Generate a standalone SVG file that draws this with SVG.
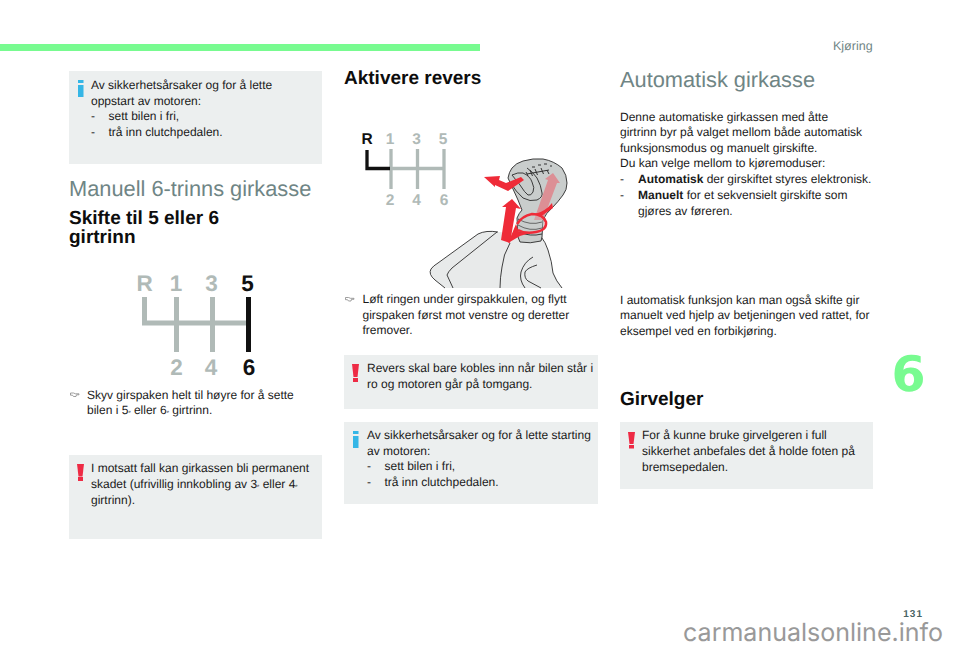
<svg xmlns="http://www.w3.org/2000/svg" width="960" height="649" viewBox="0 0 960 649">
<style>
text{font-family:"Liberation Sans",Arial,sans-serif;fill:#1a1a1a;text-rendering:geometricPrecision}
.b{font-size:12px}
.h1{font-size:21.800px;fill:#6f8585}
.h2{font-size:19px;font-weight:bold;fill:#0d0d0d}
.box{fill:#ecefef}
.i{fill:#35b6e6}
.w{fill:#ee2b45}
.g{fill:#b0bab7;font-weight:bold}
.k{fill:#111;font-weight:bold}
.gl{stroke:#b0bab7;fill:none}
.kl{stroke:#111;fill:none}
.sup{font-size:4px}
.ink{fill:none;stroke:#2a2a2a;stroke-width:.9}
.hand{fill:#fff;stroke:#888;stroke-width:.8}
</style>
<rect width="960" height="649" fill="#fff"/>
<rect x="0" y="44" width="480" height="7" fill="#78fb90"/>

<g id="box1"><rect class="box" x="69" y="71" width="253" height="93"/>
<rect class="i" x="78" y="80" width="5.500" height="3"/><rect class="i" x="78" y="85" width="5.500" height="12"/>
<text class="b" x="91" y="89">Av sikkerhetsårsaker og for å lette</text>
<text class="b" x="91" y="105">oppstart av motoren:</text>
<text class="b" x="91" y="120">-</text><text class="b" x="108.500" y="120">sett bilen i fri,</text>
<text class="b" x="91" y="136">-</text><text class="b" x="108.500" y="136">trå inn clutchpedalen.</text></g>

<text class="h1" x="69" y="196">Manuell 6-trinns girkasse</text>
<text class="h2" x="69" y="224">Skifte til 5 eller 6</text>
<text class="h2" x="69" y="243">girtrinn</text>

<g id="shift-diagram-1">
<path class="gl" stroke-width="5" d="M144.500 297V323H246M176.500 297V352M212.500 297V352"/>
<path class="kl" stroke-width="5" d="M248.500 297V352"/>
<g font-size="22.500px" text-anchor="middle"><text class="g" x="144.500" y="291">R</text><text class="g" x="176" y="291">1</text><text class="g" x="211.500" y="291">3</text><text class="k" x="247.500" y="291">5</text>
<text class="g" x="176.500" y="375">2</text><text class="g" x="211" y="375">4</text><text class="k" x="249" y="375">6</text></g>
</g>

<path class="hand" d="M70.500 393h3l2 .8h3.500v1h-2.500l-.5 1.700h-2.500l-1-1.300h-2z"/>
<text class="b" x="87" y="399">Skyv girspaken helt til høyre for å sette</text>
<text class="b" x="87" y="414">bilen i 5<tspan class="sup" dy="-1">e</tspan><tspan dy="1"> eller 6</tspan><tspan class="sup" dy="-1">e</tspan><tspan dy="1"> girtrinn.</tspan></text>

<g id="box2"><rect class="box" x="69" y="455" width="253" height="84"/>
<path class="w" d="M77 464h7l-1.500 12.500h-4z"/><rect class="w" x="78" y="477" width="5" height="4"/>
<text class="b" x="91" y="472">I motsatt fall kan girkassen bli permanent</text>
<text class="b" x="91" y="488">skadet (ufrivillig innkobling av 3<tspan class="sup" dy="-1">e</tspan><tspan dy="1"> eller 4</tspan><tspan class="sup" dy="-1">e</tspan></text>
<text class="b" x="91" y="504">girtrinn).</text></g>

<text class="h2" x="344" y="84">Aktivere revers</text>

<g id="shift-diagram-2">
<path class="gl" stroke-width="3.300" d="M391 149V189M417.500 149V189M444 149V189M391 168.500H444"/>
<path class="kl" stroke-width="3.300" d="M367 150V168.500H390"/>
<g font-size="15.500px" text-anchor="middle"><text class="k" x="367" y="144">R</text><text class="g" x="390" y="144">1</text><text class="g" x="416.500" y="144">3</text><text class="g" x="443" y="144">5</text>
<text class="g" x="390" y="205">2</text><text class="g" x="416.500" y="205">4</text><text class="g" x="444" y="205">6</text></g>
</g>

<g id="gear-knob">
<path d="M430 272Q431 268 436 265L478 234Q486 230 498 232L540 235L548 250L553 273L562 288H445L435 280Z" fill="#e8eaea"/>
<path class="ink" d="M445 288L435 280Q428 274 431 269Q433 266 438 263L478 234Q486 230 498 232"/>
<path class="ink" d="M453 288L447 275Q448 272 452 268L497 232"/>
<path class="ink" d="M510 243Q503 255 502 267Q500 278 500 288M540 235Q546 243 548 250Q552 262 553 273Q556 281 562 288"/>
<path class="ink" d="M525 288Q519 280 521 272Q524 262 533 257M537 265Q527 268 525 272Q524 278 528 281L541 288"/>
<path d="M508 178Q509 172 512 168Q516 163 523 161Q533 158 543 159Q554 161 562 168Q567 175 567 183Q567 190 563 195Q558 202 552 208Q546 213 543 220L542 237L541 241Q530 244 520 242L518 237L517 218Q519 213 522 210Q520 205 518 200Z" fill="#c9cdcc" stroke="#2a2a2a" stroke-width=".9"/>
<path class="ink" d="M512 175Q518 172 523 173Q530 176 532 182Q535 188 533 192Q531 196 528 195Q525 193 520 185Z"/>
<path class="ink" d="M510 182Q516 192 523 198Q530 202 537 200Q543 197 542 193Q541 185 537 178Q533 172 527 168"/>
<path class="ink" d="M518 219Q530 226 542 222M518 225Q530 232 542 228M519 232Q530 237 542 234"/>
<path d="M526 172l2 4M530 170l2.500 6M535 169l2.500 6M541 168l2.500 6M547 170l2 4M527 174l22-4" stroke="#333" stroke-width="1" fill="none"/>
<path d="M532 167h3M538 165h3M544 164h3M550 166h2" stroke="#333" stroke-width="1.200" fill="none"/>
<path d="M512 199L521 209L516 208L510 243L501 240L506 207L502 207Z" fill="#ef2b38"/>
<path d="M484 177L500 176L499 180L506 183L521 177L524 180L508 191L495 185L495 187Z" fill="#ef2b38"/>
<path d="M534 220L548 180L545 179L553 173L560 183L557 183L543 220Z" fill="#dc8f95"/>
<path d="M552 203L553 208L540 217L535 214Q546 211 552 203Z" fill="#ef2b38"/>
<path d="M517 224Q522 216 532 214Q543 214 546 222Q547 230 536 232Q525 234 518 230" fill="#c9cdcc" fill-opacity=".3" stroke="#ef2b38" stroke-width="2.500"/>
<path d="M508 243L516 224L519 232L530 233L520 236Z" fill="#ef2b38"/>
</g>

<path class="hand" d="M345.500 297.500h3l2 .8h3.500v1h-2.500l-.5 1.700h-2.500l-1-1.300h-2z"/>
<text class="b" x="362.500" y="303">Løft ringen under girspakkulen, og flytt</text>
<text class="b" x="362.500" y="319">girspaken først mot venstre og deretter</text>
<text class="b" x="362.500" y="334">fremover.</text>

<g id="box3"><rect class="box" x="344" y="355" width="254" height="54"/>
<path class="w" d="M352 364h7l-1.500 13h-4z"/><rect class="w" x="353" y="378" width="5" height="4"/>
<text class="b" x="367" y="372">Revers skal bare kobles inn når bilen står i</text>
<text class="b" x="367" y="388">ro og motoren går på tomgang.</text></g>

<g id="box4"><rect class="box" x="344" y="422" width="254" height="82"/>
<rect class="i" x="353" y="431" width="5.500" height="3"/><rect class="i" x="353" y="436" width="5.500" height="12"/>
<text class="b" x="367" y="439">Av sikkerhetsårsaker og for å lette starting</text>
<text class="b" x="367" y="455">av motoren:</text>
<text class="b" x="367" y="470">-</text><text class="b" x="384.500" y="470">sett bilen i fri,</text>
<text class="b" x="367" y="486">-</text><text class="b" x="384.500" y="486">trå inn clutchpedalen.</text></g>

<text class="h1" x="620" y="87">Automatisk girkasse</text>
<text class="b" x="620" y="121">Denne automatiske girkassen med åtte</text>
<text class="b" x="620" y="136">girtrinn byr på valget mellom både automatisk</text>
<text class="b" x="620" y="152">funksjonsmodus og manuelt girskifte.</text>
<text class="b" x="620" y="167">Du kan velge mellom to kjøremoduser:</text>
<text class="b" x="620" y="183">-</text><text class="b" x="638" y="183"><tspan font-weight="bold">Automatisk</tspan> der girskiftet styres elektronisk.</text>
<text class="b" x="620" y="199">-</text><text class="b" x="638" y="199"><tspan font-weight="bold">Manuelt</tspan> for et sekvensielt girskifte som</text>
<text class="b" x="638" y="215">gjøres av føreren.</text>

<text class="b" x="620" y="304">I automatisk funksjon kan man også skifte gir</text>
<text class="b" x="620" y="319">manuelt ved hjelp av betjeningen ved rattet, for</text>
<text class="b" x="620" y="335">eksempel ved en forbikjøring.</text>

<text class="h2" x="620" y="405">Girvelger</text>

<g id="box5"><rect class="box" x="620" y="422" width="253" height="67"/>
<path class="w" d="M628 432h7l-1.500 12h-4z"/><rect class="w" x="629" y="445" width="5" height="3.500"/>
<text class="b" x="642" y="439">For å kunne bruke girvelgeren i full</text>
<text class="b" x="642" y="455">sikkerhet anbefales det å holde foten på</text>
<text class="b" x="642" y="471">bremsepedalen.</text></g>

<text x="908.500" y="391" font-size="49px" font-weight="bold" text-anchor="middle" style="font-family:'DejaVu Sans',sans-serif;fill:#78fb90">6</text>
<text x="833" y="50" font-size="12.500px" style="fill:#6f8585">Kjøring</text>
<text x="923" y="617" font-size="10px" font-weight="bold" text-anchor="end" letter-spacing="1" style="fill:#4a6464">131</text>
<text x="943" y="640.500" font-size="25px" text-anchor="end" style="font-family:'Inter',sans-serif;fill:#999">carmanualsonline.info</text>
</svg>
